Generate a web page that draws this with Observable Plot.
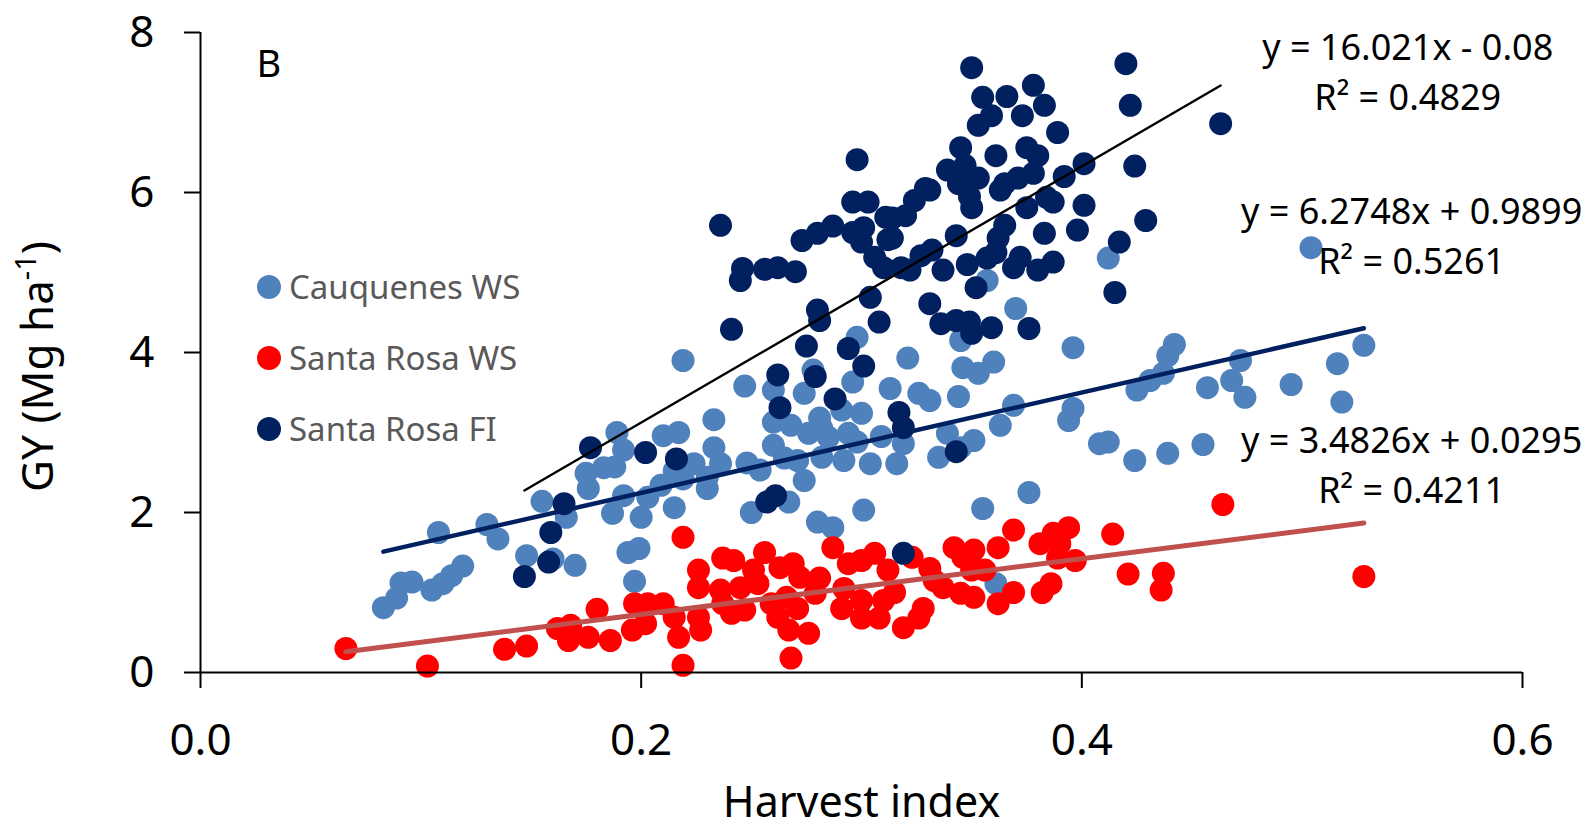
<!DOCTYPE html>
<html>
<head>
<meta charset="utf-8">
<script src="https://cdn.jsdelivr.net/npm/d3@7"></script>
<script src="https://cdn.jsdelivr.net/npm/@observablehq/plot@0.6"></script>
<style>
  body { margin: 0; background: #fff; }
  #chart { position: relative; width: 1593px; height: 832px; font-family: "Noto Sans", sans-serif; }
  #legend { position: absolute; left: 257px; top: 251px; }
  #legend .item { display: flex; align-items: center; height: 71px; }
  #legend .swatch { width: 24px; height: 24px; border-radius: 50%; margin-right: 8px; }
  #legend .name { font-size: 33px; color: #595959; line-height: 71px; }
</style>
</head>
<body>
<div id="chart"></div>
<script>
// Harvest index (x) vs grain yield GY (y), one array per site/treatment
const cauquenesWS = [
  [0.083,0.81],[0.089,0.93],[0.091,1.12],[0.096,1.13],[0.105,1.03],[0.110,1.11],[0.114,1.21],[0.119,1.33],
  [0.108,1.75],[0.130,1.85],[0.135,1.67],[0.148,1.46],[0.160,1.42],[0.170,1.34],[0.155,2.14],[0.166,1.94],
  [0.175,2.49],[0.176,2.30],[0.183,2.56],[0.188,2.57],[0.189,3.00],[0.192,2.78],[0.192,2.21],[0.187,1.99],
  [0.194,1.50],[0.199,1.55],[0.197,1.14],[0.200,1.94],[0.203,2.19],[0.209,2.34],[0.215,2.06],[0.215,2.52],
  [0.219,2.42],[0.210,2.96],[0.217,3.00],[0.219,3.90],[0.224,2.61],[0.230,2.30],[0.230,2.44],[0.233,2.81],
  [0.233,3.16],[0.236,2.61],[0.247,3.58],[0.248,2.62],[0.250,2.00],[0.254,2.53],[0.260,3.53],[0.260,3.13],
  [0.260,2.84],[0.265,2.68],[0.267,2.13],[0.268,3.09],[0.271,2.65],[0.274,3.49],[0.274,2.40],[0.276,2.99],
  [0.278,3.78],[0.280,1.88],[0.281,3.18],[0.282,3.05],[0.282,2.69],[0.285,2.94],[0.287,1.81],[0.291,3.28],
  [0.292,2.65],[0.294,2.99],[0.296,3.63],[0.298,4.19],[0.298,2.88],[0.300,3.24],[0.301,2.03],[0.304,2.61],
  [0.309,2.95],[0.313,3.55],[0.316,2.61],[0.319,2.86],[0.321,3.93],[0.326,3.49],[0.331,3.40],[0.335,2.69],
  [0.339,2.99],[0.344,3.45],[0.345,4.15],[0.345,2.81],[0.346,3.81],[0.351,2.90],[0.353,3.74],[0.355,2.05],
  [0.357,4.90],[0.360,3.88],[0.361,1.11],[0.363,3.09],[0.369,3.34],[0.370,4.55],[0.376,2.25],[0.394,3.15],
  [0.396,3.30],[0.396,4.06],[0.408,2.86],[0.412,2.88],[0.412,5.18],[0.424,2.65],[0.425,3.53],[0.431,3.65],
  [0.437,3.74],[0.439,3.96],[0.442,4.10],[0.439,2.74],[0.455,2.85],[0.457,3.56],[0.468,3.65],[0.472,3.90],
  [0.474,3.44],[0.495,3.60],[0.504,5.31],[0.516,3.86],[0.518,3.38],[0.528,4.09]
];

const santaRosaWS = [
  [0.066,0.30],[0.103,0.08],[0.138,0.29],[0.148,0.33],[0.162,0.55],[0.168,0.59],[0.167,0.40],[0.176,0.44],
  [0.180,0.79],[0.186,0.40],[0.196,0.53],[0.197,0.86],[0.202,0.61],[0.203,0.86],[0.210,0.86],[0.215,0.69],
  [0.217,0.44],[0.219,1.69],[0.219,0.09],[0.226,1.28],[0.226,1.06],[0.226,0.69],[0.227,0.53],[0.236,1.03],
  [0.237,1.43],[0.237,0.86],[0.241,0.74],[0.242,1.40],[0.245,1.06],[0.247,0.78],[0.251,1.28],[0.253,1.11],
  [0.256,1.50],[0.259,0.86],[0.262,0.69],[0.263,1.31],[0.266,0.94],[0.267,0.53],[0.268,0.18],[0.269,1.36],
  [0.271,0.80],[0.272,1.19],[0.276,0.49],[0.279,0.99],[0.281,1.18],[0.287,1.56],[0.291,0.80],[0.292,1.05],
  [0.294,1.36],[0.300,1.40],[0.300,0.90],[0.300,0.68],[0.306,1.49],[0.308,0.68],[0.310,0.90],[0.312,1.28],
  [0.315,1.00],[0.319,0.56],[0.323,1.44],[0.326,0.68],[0.328,0.80],[0.331,1.30],[0.333,1.15],[0.337,1.06],
  [0.342,1.56],[0.345,0.99],[0.346,1.44],[0.350,1.28],[0.351,1.53],[0.351,0.94],[0.356,1.28],[0.362,1.56],
  [0.362,0.86],[0.369,1.78],[0.369,1.00],[0.381,1.61],[0.382,1.00],[0.386,1.11],[0.387,1.74],[0.389,1.43],
  [0.390,1.61],[0.394,1.81],[0.397,1.40],[0.414,1.73],[0.421,1.23],[0.436,1.03],[0.437,1.24],[0.464,2.10],
  [0.528,1.20]
];

const santaRosaFI = [
  [0.147,1.20],[0.158,1.38],[0.159,1.75],[0.165,2.11],[0.177,2.81],[0.202,2.75],[0.216,2.67],[0.236,5.59],
  [0.241,4.29],[0.245,4.90],[0.246,5.05],[0.256,5.04],[0.257,2.13],[0.261,2.21],[0.262,5.06],[0.262,3.72],
  [0.263,3.31],[0.270,5.01],[0.273,5.40],[0.275,4.08],[0.279,3.70],[0.280,4.53],[0.281,4.40],[0.280,5.49],
  [0.287,5.58],[0.288,3.42],[0.294,4.05],[0.296,5.88],[0.296,5.50],[0.298,6.41],[0.300,5.38],[0.301,5.56],
  [0.301,3.83],[0.303,5.88],[0.304,4.69],[0.306,5.19],[0.308,4.38],[0.310,5.06],[0.311,5.69],[0.312,5.41],
  [0.314,5.68],[0.314,5.43],[0.317,3.25],[0.318,5.06],[0.319,3.06],[0.319,1.49],[0.320,5.71],[0.322,5.03],
  [0.324,5.90],[0.327,5.21],[0.329,6.05],[0.331,4.61],[0.331,6.03],[0.332,5.28],[0.336,4.36],[0.337,5.03],
  [0.339,6.28],[0.343,5.46],[0.343,4.40],[0.343,2.76],[0.344,6.11],[0.345,6.56],[0.347,6.34],[0.348,5.10],
  [0.349,4.38],[0.349,5.95],[0.350,7.56],[0.350,5.81],[0.350,4.24],[0.352,4.81],[0.353,6.84],[0.353,6.18],
  [0.355,7.19],[0.357,5.18],[0.359,6.96],[0.359,4.31],[0.361,6.46],[0.361,5.25],[0.362,5.43],[0.363,6.03],
  [0.365,6.11],[0.365,5.59],[0.366,7.20],[0.369,5.06],[0.371,6.18],[0.372,5.19],[0.373,6.96],[0.375,6.56],
  [0.375,5.81],[0.376,4.30],[0.378,6.24],[0.378,7.34],[0.380,5.03],[0.380,6.46],[0.383,7.09],[0.383,5.49],
  [0.384,5.94],[0.387,5.88],[0.387,5.13],[0.389,6.75],[0.392,6.20],[0.398,5.53],[0.401,6.36],[0.401,5.84],
  [0.415,4.75],[0.417,5.38],[0.420,7.61],[0.422,7.09],[0.424,6.33],[0.429,5.65],[0.463,6.86]
];

const seriesNames = ["Cauquenes WS", "Santa Rosa WS", "Santa Rosa FI"];
const seriesPoints = [cauquenesWS, santaRosaWS, santaRosaFI];
const dotColors = ["#4F81BD", "#FF0000", "#002060"];

// Linear trendlines (slope, intercept, R²) and their drawing styles
const fitSlope = [6.2748, 3.4826, 16.021];
const fitIntercept = [0.9899, 0.0295, -0.08];
const fitR2 = ["0.5261", "0.4211", "0.4829"];
const fitColors = ["#002060", "#C0504D", "#000000"];
const fitWidths = [4.5, 5, 2.4];

// Where each trendline's equation / R² label is centred (data units)
const eqLabelX = [0.5497, 0.5497, 0.5479];
const eqLabelY = [5.75, 2.89, 7.80];
const r2LabelY = [5.125, 2.26, 7.17];

const xTicks = [0, 0.2, 0.4, 0.6];
const yTicks = [0, 2, 4, 6, 8];
const xTitle = "Harvest index";
const yTitle = "GY (Mg ha";
const yTitleSup = "-1";
const panelLetter = "B";

const points = seriesPoints.flatMap((pts, i) =>
  pts.map(([hi, gy]) => ({series: seriesNames[i], hi, gy})));

const fitLines = seriesPoints.map((pts, i) =>
  d3.extent(pts, d => d[0]).map(hi => ({series: seriesNames[i], hi, gy: fitSlope[i] * hi + fitIntercept[i]})));

const fmtSigned = v => (v < 0 ? "- " : "+ ") + Math.abs(v);
const eqLabels = seriesNames.flatMap((name, i) => [
  {hi: eqLabelX[i], gy: eqLabelY[i], text: `y = ${fitSlope[i]}x ${fmtSigned(fitIntercept[i])}`},
  {hi: eqLabelX[i], gy: r2LabelY[i], text: `R² = ${fitR2[i]}`}
]);

const chart = Plot.plot({
  width: 1593,
  height: 832,
  marginLeft: 200,
  marginRight: 71,
  marginTop: 32,
  marginBottom: 160,
  style: {fontFamily: "'Noto Sans', sans-serif", fontSize: "44px", color: "#000", background: "#fff", overflow: "visible"},
  x: {domain: [0, 0.6]},
  y: {domain: [0, 8]},
  color: {domain: seriesNames, range: dotColors},
  marks: [
    Plot.dot(points, {x: "hi", y: "gy", r: 11.5, fill: "series"}),
    ...fitLines.map((line, i) => Plot.line(line, {x: "hi", y: "gy", stroke: fitColors[i], strokeWidth: fitWidths[i]})),
    Plot.ruleY([0], {stroke: "#000", strokeWidth: 2}),
    Plot.ruleX([0], {stroke: "#000", strokeWidth: 2}),
    Plot.axisX({ticks: xTicks, tickFormat: d3.format(".1f"), tickSize: 16, tickPadding: 35, strokeWidth: 2, fontSize: 44, label: null}),
    Plot.axisY({ticks: yTicks, tickFormat: d3.format("d"), tickSize: 16, tickPadding: 30, strokeWidth: 2, fontSize: 44, label: null}),
    Plot.text(eqLabels, {x: "hi", y: "gy", text: "text", fontSize: 36, textAnchor: "middle", lineAnchor: "middle", fill: "#000"}),
    Plot.text([xTitle], {frameAnchor: "bottom", dy: 114, lineAnchor: "top", fontSize: 43, fill: "#000"}),
    Plot.text([yTitle], {frameAnchor: "left", dx: -162, dy: 14, rotate: -90, lineAnchor: "middle", textAnchor: "middle", fontSize: 44, fill: "#000"}),
    Plot.text([panelLetter], {frameAnchor: "top-left", dx: 56, dy: 18, lineAnchor: "top", textAnchor: "start", fontSize: 38, fill: "#000"})
  ]
});

// Superscript exponent on the y-axis title
d3.select(chart).selectAll("text").filter(function() { return this.textContent === yTitle; })
  .each(function() {
    const t = d3.select(this);
    t.append("tspan").attr("font-size", 29).attr("dy", -17).text(yTitleSup);
    t.append("tspan").attr("font-size", 44).attr("dy", 17).text(")");
  });

const container = document.getElementById("chart");
container.appendChild(chart);

// Legend drawn over the upper-left of the plot area
const legend = document.createElement("div");
legend.id = "legend";
seriesNames.forEach((name, i) => {
  const item = document.createElement("div");
  item.className = "item";
  const sw = document.createElement("span");
  sw.className = "swatch";
  sw.style.background = dotColors[i];
  const label = document.createElement("span");
  label.className = "name";
  label.textContent = name;
  item.appendChild(sw);
  item.appendChild(label);
  legend.appendChild(item);
});
container.appendChild(legend);
</script>
</body>
</html>
